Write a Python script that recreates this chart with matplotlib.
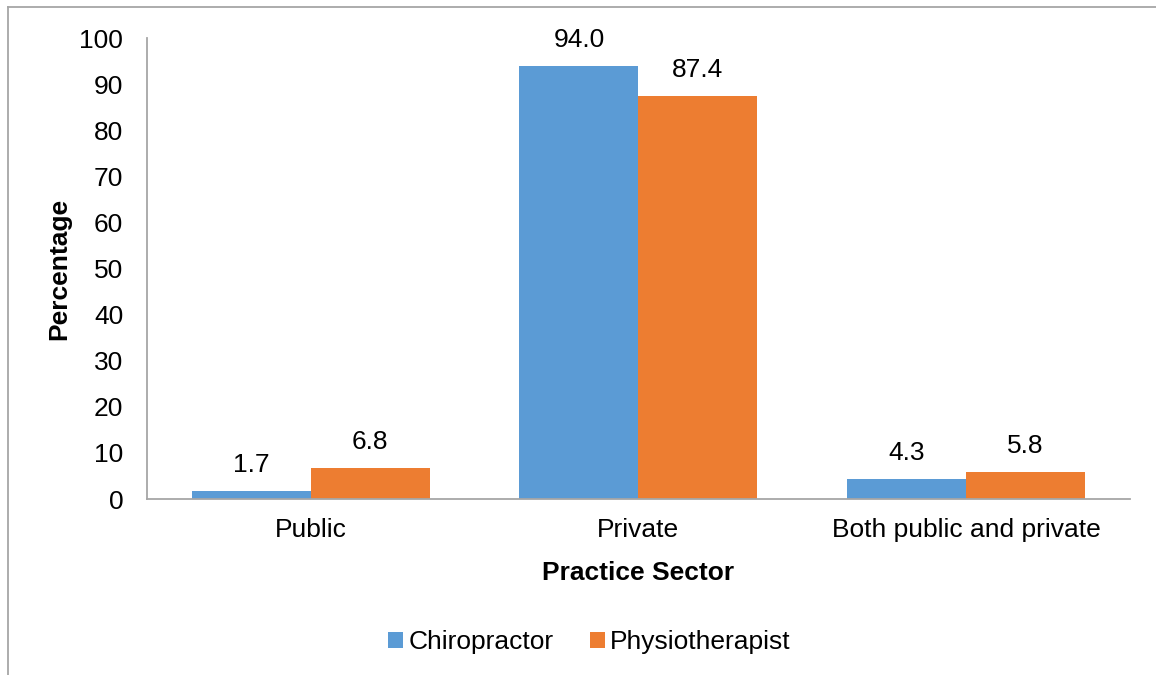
import numpy as np
import matplotlib
matplotlib.use('Agg')
import matplotlib.pyplot as plt
from matplotlib.lines import Line2D

plt.rcParams['font.family'] = ['Liberation Sans', 'DejaVu Sans']

categories = ['Public', 'Private', 'Both public and private']
chiro = [1.7, 94.0, 4.3]
physio = [6.8, 87.4, 5.8]
series_names = ['Chiropractor', 'Physiotherapist']
yticks = [0, 10, 20, 30, 40, 50, 60, 70, 80, 90, 100]

blue = '#5b9bd5'
orange = '#ed7d31'
gray = '#a6a6a6'
fs = 19

fig = plt.figure(figsize=(11.56, 6.75), dpi=100)
ax = fig.add_axes([0.127, 0.2607, 0.8505, 0.683])

x = np.arange(len(categories))
w = 0.363
b1 = ax.bar(x - w/2, chiro, w, color=blue, label=series_names[0])
b2 = ax.bar(x + w/2, physio, w, color=orange, label=series_names[1])

# value labels above the bars
for bars, vals in [(b1, chiro), (b2, physio)]:
    for bar, v in zip(bars, vals):
        ax.annotate('%.1f' % v, (bar.get_x() + bar.get_width()/2, v),
                    xytext=(0, 10), textcoords='offset points',
                    ha='center', va='bottom', fontsize=fs)

ax.set_xlim(-0.5, 2.5)
ax.set_ylim(0, 100)
ax.set_yticks(yticks)
ax.set_xticks(x)
ax.set_xticklabels(categories)
ax.tick_params(axis='y', length=0, pad=17, labelsize=fs)
ax.tick_params(axis='x', length=0, pad=14, labelsize=fs)

for s in ['top', 'right']:
    ax.spines[s].set_visible(False)
for s in ['left', 'bottom']:
    ax.spines[s].set_color(gray)
    ax.spines[s].set_linewidth(1.3)

ax.set_xlabel('Practice Sector', fontsize=fs, fontweight='bold', labelpad=13)
ax.set_ylabel('Percentage', fontsize=fs, fontweight='bold', labelpad=6)

fig.legend(handles=[b1, b2], labels=series_names, loc='center',
           bbox_to_anchor=(0.51, 0.049), ncol=2, frameon=False,
           fontsize=fs, handlelength=0.55, handleheight=0.55,
           handletextpad=0.2, columnspacing=1.4)

# outer frame (only left and top edges visible in the crop)
fig.add_artist(Line2D([0.0065, 0.0065], [0.0, 0.99], transform=fig.transFigure,
                      color=gray, lw=1.3))
fig.add_artist(Line2D([0.0065, 1.0], [0.99, 0.99], transform=fig.transFigure,
                      color=gray, lw=1.3))

plt.savefig('out.png', dpi=100)
